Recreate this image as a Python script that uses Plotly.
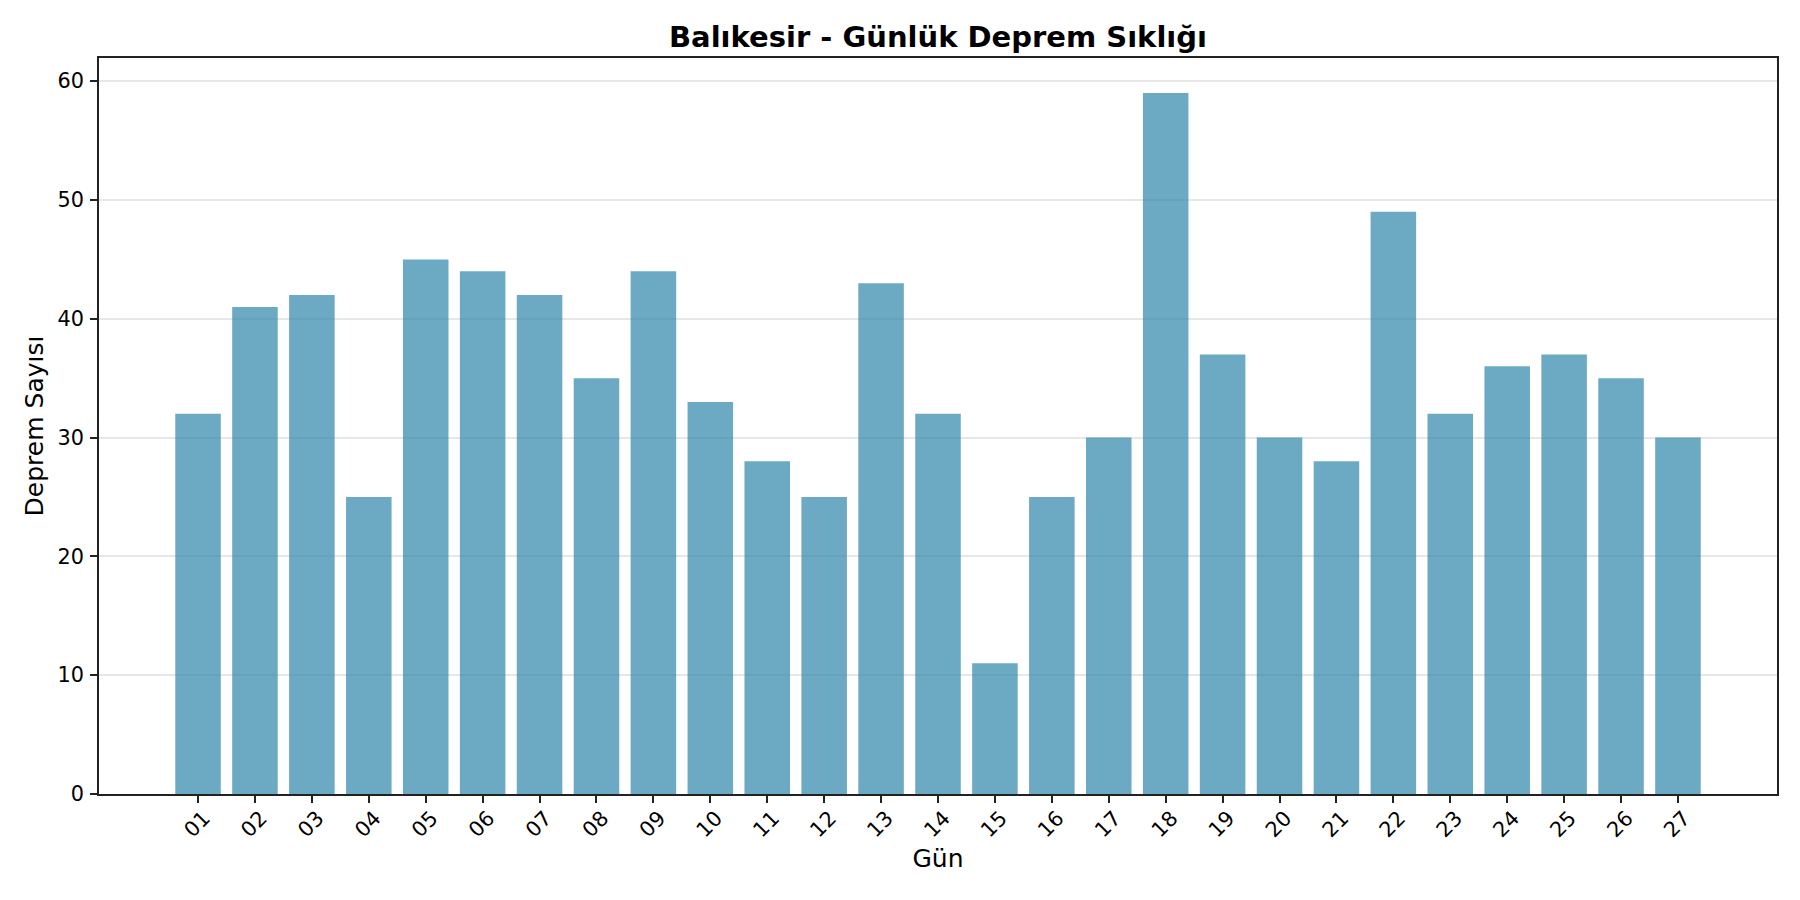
import plotly.graph_objects as go

days = ["01", "02", "03", "04", "05", "06", "07", "08", "09", "10", "11", "12", "13", "14",
        "15", "16", "17", "18", "19", "20", "21", "22", "23", "24", "25", "26", "27"]
counts = [32, 41, 42, 25, 45, 44, 42, 35, 44, 33, 28, 25, 43, 32,
          11, 25, 30, 59, 37, 30, 28, 49, 32, 36, 37, 35, 30]

title_text = "Balıkesir - Günlük Deprem Sıklığı"
x_title = "Gün"
y_title = "Deprem Sayısı"

FONT = "DejaVu Sans"
n = len(days)

# page body has an 8px default margin; figure size/margins compensate for it
W, H = 1784, 884

fig = go.Figure()
fig.add_trace(go.Bar(
    x=list(range(n)),
    y=counts,
    width=0.8,
    marker=dict(color="#2E86AB", opacity=0.7, line=dict(width=0)),
    hoverinfo="x+y",
))

fig.update_layout(
    width=W,
    height=H,
    paper_bgcolor="white",
    plot_bgcolor="white",
    margin=dict(l=91, r=15, t=50, b=98),
    showlegend=False,
    font=dict(family=FONT, color="black"),
    title=dict(
        text="<b>" + title_text + "</b>",
        font=dict(family=FONT, size=29, color="black"),
        x=0.5, xref="paper", xanchor="center",
        y=1 - 28.7 / H, yref="container", yanchor="middle",
    ),
    xaxis=dict(
        range=[-1.74, n - 1 + 1.74],
        tickmode="array",
        tickvals=list(range(n)),
        ticktext=days,
        tickangle=-45,
        ticklabelshift=6,
        ticklabelstandoff=-5,
        tickfont=dict(family=FONT, size=20.8, color="black"),
        ticks="outside", ticklen=7, tickwidth=1.7, tickcolor="#222",
        showline=True, linecolor="#222", linewidth=1.7, mirror=True,
        showgrid=False, zeroline=False,
        title=dict(text=x_title, font=dict(family=FONT, size=25, color="black"), standoff=8),
    ),
    yaxis=dict(
        range=[0, 61.95],
        tickmode="array",
        tickvals=[0, 10, 20, 30, 40, 50, 60],
        tickfont=dict(family=FONT, size=20.8, color="black"),
        ticklabelstandoff=2,
        ticks="outside", ticklen=7, tickwidth=1.7, tickcolor="#222",
        showline=True, linecolor="#222", linewidth=1.7, mirror=True,
        showgrid=True, gridcolor="rgba(176,176,176,0.3)", gridwidth=1.7,
        zeroline=False,
        title=dict(text=y_title, font=dict(family=FONT, size=25, color="black"), standoff=7),
    ),
)

fig.write_html("out.html")
